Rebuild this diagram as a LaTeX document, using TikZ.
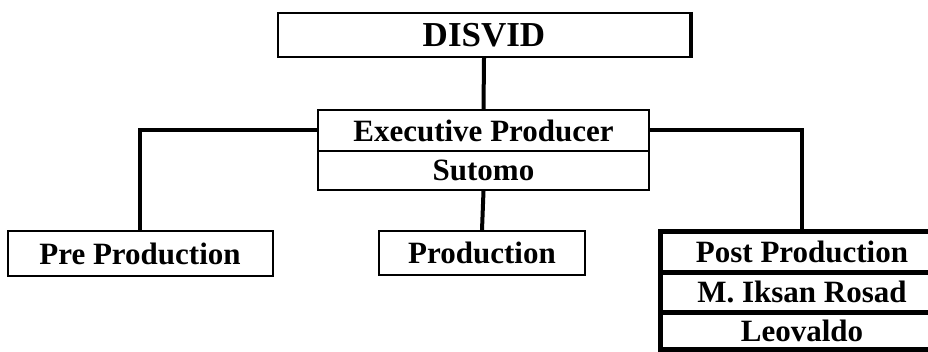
\documentclass[tikz,border=0pt]{standalone}
\usepackage{fontspec}
\setmainfont{Liberation Serif}
\begin{document}
\begin{tikzpicture}[x=1pt,y=-1pt,
  label font/.style={font=\fontsize{31pt}{34pt}\selectfont\bfseries},
  box/.style={draw=black, fill=white, line width=2pt, inner sep=0pt, label font},
  rowcell/.style={inner sep=0pt, label font},
  heavyline/.style={draw=black, line width=5pt},
  link/.style={draw=black, line width=4pt}]
\useasboundingbox (0,0) rectangle (928,352);
\clip (0,0) rectangle (928,352);

% top of the organisation
\node[box, minimum width=412pt, minimum height=44pt,
  font=\fontsize{35pt}{38pt}\selectfont\bfseries] (disvid) at (484,35) {DISVID};

% executive producer and name
\node[box, minimum width=331pt, minimum height=41pt] (exec) at (483.5,130.5) {Executive Producer};
\node[box, minimum width=331pt, minimum height=39pt] (sutomo) at (483.5,170.5) {Sutomo};

% divisions
\node[box, minimum width=265pt, minimum height=45pt] (pre) at (140,253.5) {Pre Production};
\node[box, minimum width=206pt, minimum height=44pt] (prod) at (482,253) {Production};
\node[rowcell, minimum width=282pt, minimum height=40pt] (post) at (802,252) {Post Production};
\node[rowcell, minimum width=282pt, minimum height=40pt] (iksan) at (802,292) {M. Iksan Rosad};
\node[rowcell, minimum width=282pt, minimum height=37pt] (leo) at (802,330.5) {Leovaldo};

% heavy frame of the post production column, running off to the right
\draw[heavyline] ([xshift=40pt]post.north east) -- (post.north west)
  -- (leo.south west) -- ([xshift=40pt]leo.south east);
\draw[heavyline] (post.south west) -- ([xshift=40pt]post.south east);
\draw[heavyline] (iksan.south west) -- ([xshift=40pt]iksan.south east);

% connectors
\draw[link] (disvid.south) -- (exec.north);
\draw[link] (exec.west) -| (pre.north);
\draw[link] (sutomo.south) -- (prod.north);
\draw[link] (exec.east) -| (post.north);

% heavier right edge of the top box
\draw[line width=4pt] (disvid.north east) -- (disvid.south east);
\end{tikzpicture}
\end{document}
